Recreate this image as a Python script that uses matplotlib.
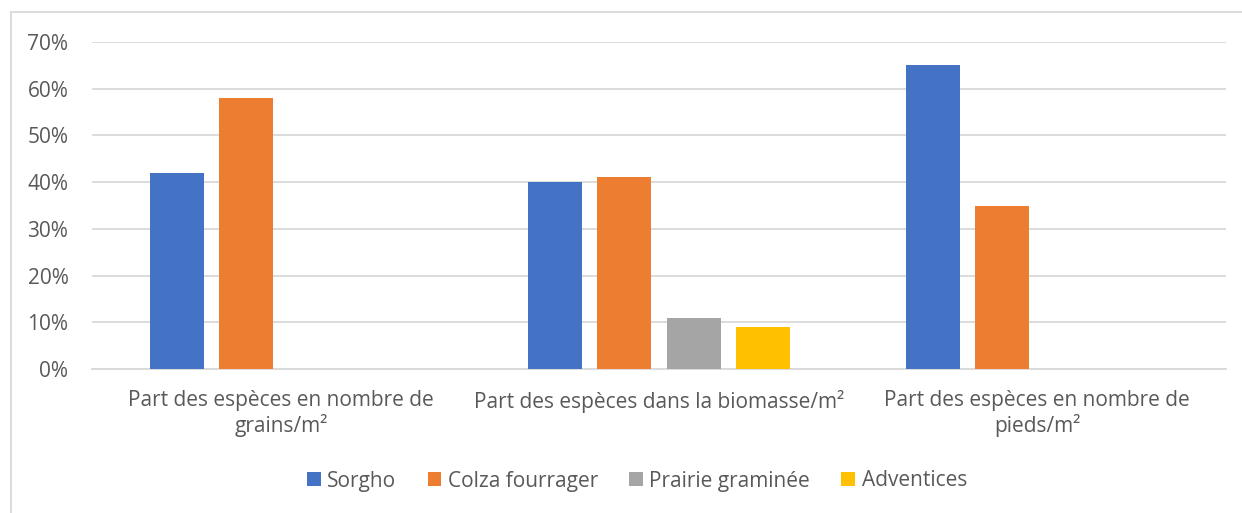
import matplotlib
matplotlib.use("Agg")
import matplotlib.pyplot as plt
import numpy as np
from matplotlib.patches import Rectangle

categories = ["Part des espèces en nombre de\ngrains/m²",
              "Part des espèces dans la biomasse/m²",
              "Part des espèces en nombre de\npieds/m²"]
series_names = ["Sorgho", "Colza fourrager", "Prairie graminée", "Adventices"]
sorgho = [0.42, 0.40, 0.65]
colza = [0.58, 0.41, 0.35]
prairie = [0.0, 0.11, 0.0]
adventices = [0.0, 0.09, 0.0]
colors = ["#4472C4", "#ED7D31", "#A5A5A5", "#FFC000"]
yticks = [0, 0.1, 0.2, 0.3, 0.4, 0.5, 0.6, 0.7]

plt.rcParams['font.family'] = ['Open Sans', 'DejaVu Sans']
text_color = "#595959"

fig = plt.figure(figsize=(12.42, 5.13), dpi=100)
fig.patches.append(Rectangle((11/1242, -0.1), 1.2, (1-12/513)+0.1, transform=fig.transFigure,
                             fill=False, edgecolor="#D9D9D9", linewidth=1.3))
ax = fig.add_axes([92/1242, 1-369/513, (1226-92)/1242, (369-42)/513])

x = np.arange(len(categories))
step = 0.1827
width = 0.143
all_series = [sorgho, colza, prairie, adventices]
for i, (vals, name, c) in enumerate(zip(all_series, series_names, colors)):
    ax.bar(x + (i - 1.5) * step, vals, width=width, color=c, label=name, zorder=3)

ax.set_xlim(-0.5, 2.5)
ax.set_ylim(0, 0.7)
ax.set_yticks(yticks)
ax.set_yticklabels([f"{int(round(t*100))}%" for t in yticks])
ax.set_xticks(x)
ax.set_xticklabels(categories, linespacing=1.2)
ax.tick_params(axis='both', length=0, labelsize=15, colors=text_color)
ax.tick_params(axis='y', pad=17)
ax.tick_params(axis='x', pad=15)
ax.grid(axis='y', color="#D9D9D9", linewidth=1.3, zorder=0)
for s in ['top', 'right', 'left']:
    ax.spines[s].set_visible(False)
ax.spines['bottom'].set_color("#D9D9D9")
ax.spines['bottom'].set_linewidth(1.3)

leg = fig.legend(loc='center', bbox_to_anchor=(637/1242, 1-481/513), ncol=4, frameon=False,
                 fontsize=15, handlelength=0.67, handleheight=0.67, handletextpad=0.3,
                 columnspacing=1.5, labelcolor=text_color)

fig.savefig("out.png", dpi=100)
